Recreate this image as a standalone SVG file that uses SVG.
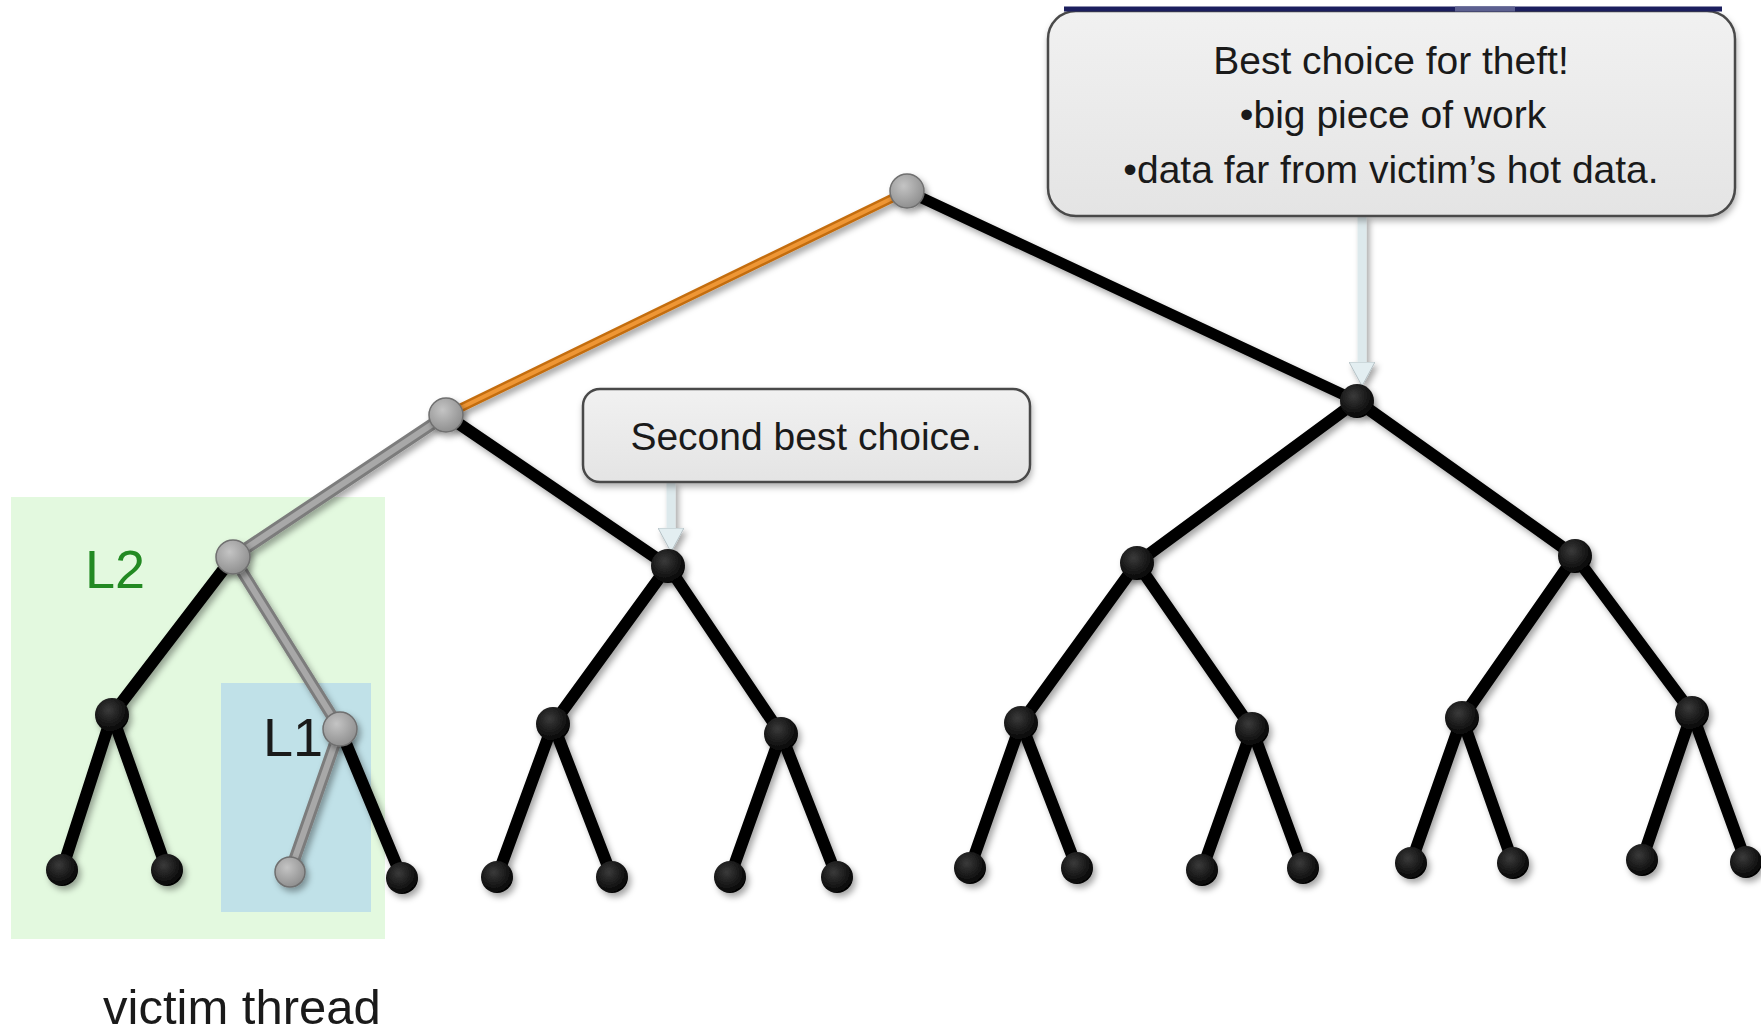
<svg xmlns="http://www.w3.org/2000/svg" width="1761" height="1032" viewBox="0 0 1761 1032">
  <style>
    .txt{font-family:"Liberation Sans",Arial,sans-serif;fill:#1a1a1a}
    .callout-text{font-size:39px;text-anchor:middle}
    .level{font-size:54px}
    .edge{fill:none;stroke:#000;stroke-width:12;stroke-linecap:round}
    .edge-top{stroke-width:11}
    .edge-gray{fill:none;stroke:#7c7c7c;stroke-width:12;stroke-linecap:round}
    .edge-gray-hi{fill:none;stroke:#a8a8a8;stroke-width:6;stroke-linecap:round}
    .edge-orange{fill:none;stroke:#c46d10;stroke-width:9;stroke-linecap:round}
    .edge-orange-hi{fill:none;stroke:#ee9635;stroke-width:4;stroke-linecap:round}
    .n{fill:url(#blackNode)}
    .ng{fill:url(#grayNode);stroke:#6f6f6f;stroke-width:1.5}
    .box{fill:url(#boxFill);stroke:#4a4a4a;stroke-width:2.5}
    .pointer{fill:none;stroke:#dde9ec;stroke-width:9}
  </style>
  <defs>
    <radialGradient id="blackNode" cx="0.4" cy="0.35" r="0.7">
      <stop offset="0" stop-color="#3a3a3a"/>
      <stop offset="1" stop-color="#000"/>
    </radialGradient>
    <radialGradient id="grayNode" cx="0.4" cy="0.35" r="0.7">
      <stop offset="0" stop-color="#c4c4c4"/>
      <stop offset="1" stop-color="#8c8c8c"/>
    </radialGradient>
    <linearGradient id="boxFill" x1="0" y1="0" x2="0" y2="1">
      <stop offset="0" stop-color="#f1f1f1"/>
      <stop offset="1" stop-color="#e4e4e4"/>
    </linearGradient>
    <filter id="shadow" x="-10%" y="-10%" width="120%" height="120%">
      <feDropShadow dx="3" dy="4" stdDeviation="3" flood-color="#000" flood-opacity="0.35"/>
    </filter>
    <filter id="boxShadow" x="-10%" y="-10%" width="120%" height="130%">
      <feDropShadow dx="1" dy="4" stdDeviation="3" flood-color="#000" flood-opacity="0.3"/>
    </filter>
    <marker id="pointerHead" viewBox="0 -13 24 26" refX="0" refY="0" markerWidth="24" markerHeight="26" markerUnits="userSpaceOnUse" orient="auto">
      <path d="M0,-13 L24,0 L0,13 Z" fill="#e3eef1" stroke="#b6c2c6" stroke-width="1"/>
    </marker>
  </defs>

  <rect width="1761" height="1032" fill="#fff"/>

  <!-- cache regions around the victim thread -->
  <g id="regions">
    <rect id="region-l2" x="11" y="497" width="374" height="442" fill="#e3f9df"/>
    <rect id="region-l1" x="221" y="683" width="150" height="229" fill="#c0e1e8"/>
  </g>

  <!-- tree edges -->
  <g id="connectors" filter="url(#shadow)">
    <!-- root level -->
    <line class="edge edge-top" x1="907" y1="191" x2="1357" y2="401"/>
    <line class="edge-orange" x1="907" y1="191" x2="446" y2="415"/>
    <line class="edge-orange-hi" x1="907" y1="191" x2="446" y2="415"/>
    <!-- second level -->
    <line class="edge" x1="446" y1="415" x2="668" y2="566"/>
    <line class="edge" x1="1357" y1="401" x2="1137" y2="563"/>
    <line class="edge" x1="1357" y1="401" x2="1575" y2="556"/>
    <!-- third level -->
    <line class="edge" x1="233" y1="557" x2="112" y2="715"/>
    <line class="edge" x1="668" y1="566" x2="553" y2="724"/>
    <line class="edge" x1="668" y1="566" x2="781" y2="734"/>
    <line class="edge" x1="1137" y1="563" x2="1021" y2="723"/>
    <line class="edge" x1="1137" y1="563" x2="1252" y2="729"/>
    <line class="edge" x1="1575" y1="556" x2="1462" y2="718"/>
    <line class="edge" x1="1575" y1="556" x2="1692" y2="713"/>
    <!-- leaf level -->
    <line class="edge" x1="112" y1="715" x2="62" y2="870"/>
    <line class="edge" x1="112" y1="715" x2="167" y2="870"/>
    <line class="edge" x1="340" y1="729" x2="402" y2="878"/>
    <line class="edge" x1="553" y1="724" x2="497" y2="877"/>
    <line class="edge" x1="553" y1="724" x2="612" y2="877"/>
    <line class="edge" x1="781" y1="734" x2="730" y2="877"/>
    <line class="edge" x1="781" y1="734" x2="837" y2="877"/>
    <line class="edge" x1="1021" y1="723" x2="970" y2="868"/>
    <line class="edge" x1="1021" y1="723" x2="1077" y2="868"/>
    <line class="edge" x1="1252" y1="729" x2="1202" y2="870"/>
    <line class="edge" x1="1252" y1="729" x2="1303" y2="868"/>
    <line class="edge" x1="1462" y1="718" x2="1411" y2="863"/>
    <line class="edge" x1="1462" y1="718" x2="1513" y2="863"/>
    <line class="edge" x1="1692" y1="713" x2="1642" y2="860"/>
    <line class="edge" x1="1692" y1="713" x2="1746" y2="862"/>
    <!-- victim thread's own path (grey) -->
    <line class="edge-gray" x1="446" y1="415" x2="233" y2="557"/>
    <line class="edge-gray-hi" x1="446" y1="415" x2="233" y2="557"/>
    <line class="edge-gray" x1="233" y1="557" x2="340" y2="729"/>
    <line class="edge-gray-hi" x1="233" y1="557" x2="340" y2="729"/>
    <line class="edge-gray" x1="340" y1="729" x2="290" y2="872"/>
    <line class="edge-gray-hi" x1="340" y1="729" x2="290" y2="872"/>
    <!-- callout pointers -->
    <line class="pointer" x1="1362" y1="216" x2="1362" y2="362" marker-end="url(#pointerHead)"/>
    <line class="pointer" x1="671" y1="482" x2="671" y2="528" marker-end="url(#pointerHead)"/>
  </g>

  <!-- tree nodes -->
  <g id="nodes" filter="url(#shadow)">
    <g id="node-root"><circle class="ng" cx="907" cy="191" r="17"/></g>
    <g id="node-l"><circle class="ng" cx="446" cy="415" r="17"/></g>
    <g id="node-r"><circle class="n" cx="1357" cy="401" r="17"/></g>
    <g id="node-ll"><circle class="ng" cx="233" cy="557" r="17"/></g>
    <g id="node-lr"><circle class="n" cx="668" cy="566" r="17"/></g>
    <g id="node-rl"><circle class="n" cx="1137" cy="563" r="17"/></g>
    <g id="node-rr"><circle class="n" cx="1575" cy="556" r="17"/></g>
    <g id="node-lll"><circle class="n" cx="112" cy="715" r="17"/></g>
    <g id="node-llr"><circle class="ng" cx="340" cy="729" r="17"/></g>
    <g id="node-lrl"><circle class="n" cx="553" cy="724" r="17"/></g>
    <g id="node-lrr"><circle class="n" cx="781" cy="734" r="17"/></g>
    <g id="node-rll"><circle class="n" cx="1021" cy="723" r="17"/></g>
    <g id="node-rlr"><circle class="n" cx="1252" cy="729" r="17"/></g>
    <g id="node-rrl"><circle class="n" cx="1462" cy="718" r="17"/></g>
    <g id="node-rrr"><circle class="n" cx="1692" cy="713" r="17"/></g>
    <g id="leaf-1"><circle class="n" cx="62" cy="870" r="16"/></g>
    <g id="leaf-2"><circle class="n" cx="167" cy="870" r="16"/></g>
    <g id="leaf-3"><circle class="ng" cx="290" cy="872" r="15"/></g>
    <g id="leaf-4"><circle class="n" cx="402" cy="878" r="16"/></g>
    <g id="leaf-5"><circle class="n" cx="497" cy="877" r="16"/></g>
    <g id="leaf-6"><circle class="n" cx="612" cy="877" r="16"/></g>
    <g id="leaf-7"><circle class="n" cx="730" cy="877" r="16"/></g>
    <g id="leaf-8"><circle class="n" cx="837" cy="877" r="16"/></g>
    <g id="leaf-9"><circle class="n" cx="970" cy="868" r="16"/></g>
    <g id="leaf-10"><circle class="n" cx="1077" cy="868" r="16"/></g>
    <g id="leaf-11"><circle class="n" cx="1202" cy="870" r="16"/></g>
    <g id="leaf-12"><circle class="n" cx="1303" cy="868" r="16"/></g>
    <g id="leaf-13"><circle class="n" cx="1411" cy="863" r="16"/></g>
    <g id="leaf-14"><circle class="n" cx="1513" cy="863" r="16"/></g>
    <g id="leaf-15"><circle class="n" cx="1642" cy="860" r="16"/></g>
    <g id="leaf-16"><circle class="n" cx="1746" cy="862" r="16"/></g>
  </g>

  <!-- callouts -->
  <g id="callout-best">
    <rect class="box" filter="url(#boxShadow)" x="1048" y="11" width="687" height="205" rx="28"/>
    <line x1="1064" y1="9" x2="1722" y2="9" stroke="#1c1f5e" stroke-width="5"/>
    <line x1="1455" y1="9" x2="1515" y2="9" stroke="#5c6090" stroke-width="5"/>
    <text class="txt callout-text" x="1391" y="74">Best choice for theft!</text>
    <text class="txt callout-text" x="1393" y="128">•big piece of work</text>
    <text class="txt callout-text" x="1391" y="183">•data far from victim’s hot data.</text>
  </g>
  <g id="callout-second">
    <rect class="box" filter="url(#boxShadow)" x="583" y="389" width="447" height="93" rx="17"/>
    <text class="txt callout-text" x="806" y="450">Second best choice.</text>
  </g>

  <!-- labels -->
  <g id="labels">
    <text class="txt level" x="85" y="588" style="fill:#238a23">L2</text>
    <text class="txt level" x="263" y="756">L1</text>
    <text class="txt" x="103" y="1024" font-size="49">victim thread</text>
  </g>
</svg>
